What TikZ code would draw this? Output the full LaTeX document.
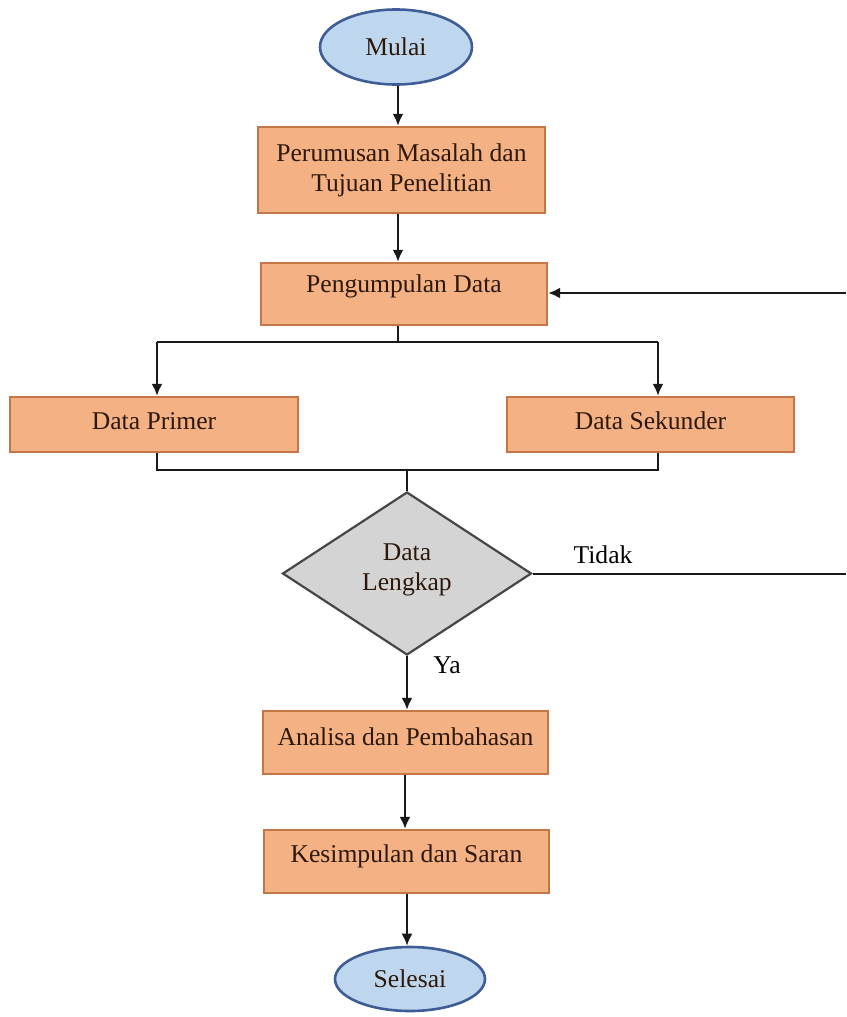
\documentclass[tikz,border=0pt]{standalone}
\usepackage{fontspec}
\setmainfont{Liberation Serif}
\usetikzlibrary{shapes.geometric,arrows.meta}
\definecolor{boxfill}{RGB}{244,177,131}
\definecolor{boxdraw}{RGB}{196,118,70}
\definecolor{ovalfill}{RGB}{190,215,238}
\definecolor{ovaldraw}{RGB}{62,92,150}
\definecolor{diafill}{RGB}{212,212,212}
\definecolor{diadraw}{RGB}{70,70,70}
\definecolor{boxtext}{RGB}{45,25,12}
\definecolor{linecol}{RGB}{25,25,25}
\tikzset{
  procbox/.style={rectangle, draw=boxdraw, fill=boxfill, line width=1.2pt, inner sep=0pt},
  ovalnode/.style={ellipse, draw=ovaldraw, fill=ovalfill, line width=1.3pt, inner sep=0pt, text=boxtext},
  dianode/.style={diamond, draw=diadraw, fill=diafill, line width=1.1pt, inner sep=0pt, minimum width=124.5pt, minimum height=81.5pt, align=center},
  lbl/.style={font=\fontsize{12.8}{15}\selectfont, text=boxtext, align=center, inner sep=0pt},
  plain/.style={font=\fontsize{12.8}{15}\selectfont, text=black, inner sep=0pt},
  conn/.style={draw=linecol, line width=1pt},
  arr/.style={conn, -{Latex[length=6pt,width=5.5pt]}}
}
\begin{document}
\begin{tikzpicture}[x=0.5pt,y=-0.5pt]
\useasboundingbox (0,0) rectangle (846,1017);
% nodes
\node[ovalnode, minimum width=76pt, minimum height=37.5pt, font=\fontsize{12.8}{15}\selectfont] (mulai) at (396,47) {Mulai};
\node[procbox, minimum width=143.5pt, minimum height=43pt] (b1) at (401.5,170) {};
\node[lbl] (t1) at (401.5,170) {Perumusan Masalah dan\\Tujuan Penelitian};
\node[procbox, minimum width=143pt, minimum height=31pt] (b2) at (404,294) {};
\node[lbl] (t2) at (404,286) {Pengumpulan Data};
\node[procbox, minimum width=144pt, minimum height=27.5pt] (b3) at (154,424.5) {};
\node[lbl] (t3) at (154,421) {Data Primer};
\node[procbox, minimum width=143.5pt, minimum height=27.5pt] (b4) at (650.5,424.5) {};
\node[lbl] (t4) at (650.5,421) {Data Sekunder};
\node[dianode] (d) at (407,573.5) {};
\node[lbl] (td) at (407,570) {Data\\Lengkap};
\node[plain] (tidak) at (603,555) {Tidak};
\node[plain] (ya) at (447,665) {Ya};
\node[procbox, minimum width=142.5pt, minimum height=31.5pt] (b5) at (405.5,742.5) {};
\node[lbl] (t5) at (405.5,737) {Analisa dan Pembahasan};
\node[procbox, minimum width=142.5pt, minimum height=31.5pt] (b6) at (406.5,861.5) {};
\node[lbl] (t6) at (406.5,856) {Kesimpulan dan Saran};
\node[ovalnode, minimum width=75pt, minimum height=32pt, font=\fontsize{12.8}{15}\selectfont] (sel) at (410,979) {Selesai};
% helper coordinates
\coordinate (split) at (398,342);
\coordinate (sl) at (157,342);
\coordinate (sr) at (658,342);
\coordinate (ml) at (157,470);
\coordinate (mr) at (658,470);
\coordinate (mm) at (407,470);
\coordinate (fbr) at (846,573.5);
\coordinate (fbt) at (846,293);
% connectors
\draw[arr] (mulai.south -| 398,0) -- (b1.north -| 398,0);
\draw[arr] (b1.south -| 398,0) -- (b2.north -| 398,0);
\draw[conn] (b2.south -| split) -- (split);
\draw[arr] (sl) -- (sl |- b3.north);
\draw[conn] (sl) -- (sr);
\draw[arr] (sr) -- (sr |- b4.north);
\draw[conn] (ml |- b3.south) -- (ml) -- (mr) -- (mr |- b4.south);
\draw[conn] (mm) -- (d.north);
\draw[arr] (d.south) -- (b5.north -| d.south);
\draw[arr] (b5.south -| 405,0) -- (b6.north -| 405,0);
\draw[arr] (b6.south -| 407,0) -- (sel.north -| 407,0);
\draw[conn] (d.east) -- (fbr);
\draw[arr] (fbt) -- (b2.east |- fbt);
\end{tikzpicture}
\end{document}
